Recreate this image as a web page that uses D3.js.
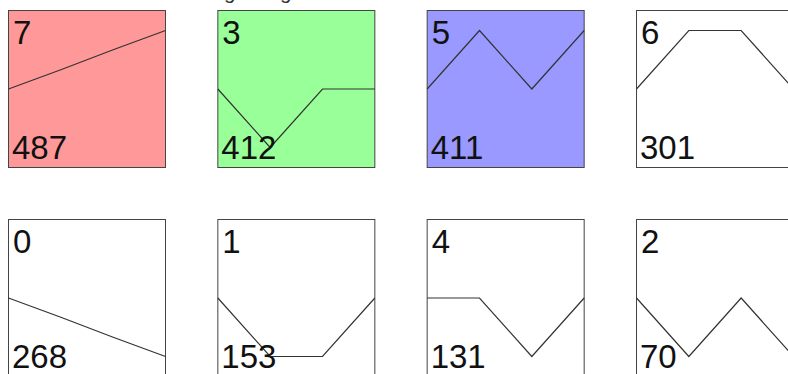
<!DOCTYPE html>
<html>
<head>
<meta charset="utf-8">
<script src="https://cdn.jsdelivr.net/npm/d3@7"></script>
<style>
  html, body { margin: 0; padding: 0; background: #fff; }
  svg { display: block; font-family: "Liberation Sans", Arial, sans-serif; }
</style>
</head>
<body>
<div id="chart"></div>
<script>
// small multiples: one box per item, ranked by total

const ids = [7, 3, 5, 6, 0, 1, 4, 2];
const totals = [487, 412, 411, 301, 268, 153, 131, 70];
const series = [
  [0, 0.33, 0.67, 1],
  [0, -1, 0, 0],
  [0, 1, 0, 1],
  [0, 1, 1, 0],
  [0, -0.33, -0.67, -1],
  [0, -1, -1, 0],
  [0, 0, -1, 0],
  [0, -1, 0, -1]
];
const fills = ["#ff9999", "#99ff99", "#9999ff", "#ffffff", "#ffffff", "#ffffff", "#ffffff", "#ffffff"];

const width = 788;
const height = 374;
const size = 157;
const cols = 4;

const svg = d3.select("#chart")
  .append("svg")
  .attr("width", width)
  .attr("height", height);

// title, almost entirely above the visible area (only descenders show)
const title = svg.append("text")
  .attr("y", -1.5)
  .style("font-size", "15px")
  .style("fill", "#333")
  .text("Ranking of eight");
const n = title.node();
const gap = n.getStartPositionOfChar(13).x - n.getStartPositionOfChar(6).x;
title.style("font-size", (15 * 56 / gap) + "px");
title.attr("x", 224 - n.getStartPositionOfChar(6).x);

const colX = d3.scaleLinear().domain([0, cols - 1]).range([8.5, 636.5]);
const rowY = d3.scaleLinear().domain([0, 1]).range([10.5, 219.5]);

const x = d3.scaleLinear().domain([0, 3]).range([0, size]);
const y = d3.scaleLinear().domain([-1, 1]).range([137, 20]);

const line = d3.line()
  .x((d, i) => x(i))
  .y(d => y(d));

const cells = svg.selectAll("g.cell")
  .data(ids.map((id, i) => ({ id, total: totals[i], values: series[i], fill: fills[i], i })))
  .join("g")
  .attr("class", "cell")
  .attr("transform", d => `translate(${colX(d.i % cols)},${rowY(Math.floor(d.i / cols))})`);

cells.append("rect")
  .attr("width", size)
  .attr("height", size)
  .attr("fill", d => d.fill)
  .attr("stroke", "#444")
  .attr("stroke-width", 1);

cells.append("path")
  .attr("d", d => line(d.values))
  .attr("fill", "none")
  .attr("stroke", "#333")
  .attr("stroke-width", 1.2);

cells.append("text")
  .attr("x", 4.5)
  .attr("y", 33)
  .style("font-size", "33px")
  .style("fill", "#111")
  .text(d => d.id);

cells.append("text")
  .attr("x", 3.5)
  .attr("y", size - 8.5)
  .style("font-size", "33px")
  .style("fill", "#111")
  .text(d => d.total);
</script>
</body>
</html>
